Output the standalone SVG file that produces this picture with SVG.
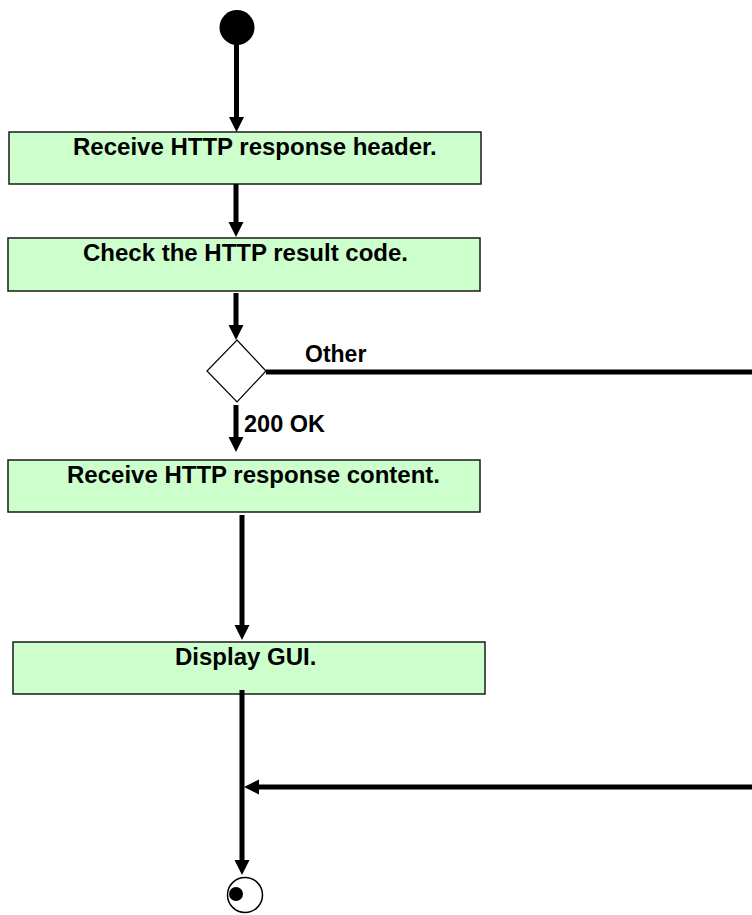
<svg xmlns="http://www.w3.org/2000/svg" width="752" height="915" viewBox="0 0 752 915">
<style>
.box{fill:#ccffcc;stroke:#1a1a1a;stroke-width:1.5}
.lbl{font-family:"Liberation Sans",Arial,sans-serif;font-weight:bold;fill:#000}
.t{font-size:24px}
.c{stroke:#000;stroke-width:5;fill:none}
.ah{fill:#000}
</style>
<rect width="752" height="915" fill="#fff"/>
<g id="start"><circle cx="237" cy="27.5" r="17.5" fill="#000"/></g>
<g id="n1"><rect class="box" x="9" y="132" width="472" height="52"/><text class="lbl t" x="73" y="155">Receive HTTP response header.</text></g>
<g id="n2"><rect class="box" x="8" y="238" width="472" height="53"/><text class="lbl t" x="83" y="261">Check the HTTP result code.</text></g>
<g id="decision"><polygon points="237,340 266,371 237,402 207,371" fill="#fff" stroke="#000" stroke-width="1.2"/></g>
<g id="n3"><rect class="box" x="8" y="460" width="472" height="52"/><text class="lbl t" x="67" y="483">Receive HTTP response content.</text></g>
<g id="n4"><rect class="box" x="13" y="642" width="472" height="52"/><text class="lbl t" x="175" y="665">Display GUI.</text></g>
<g id="end"><circle cx="245" cy="895" r="17.5" fill="#fff" stroke="#000" stroke-width="1.5"/><circle cx="236" cy="894" r="7" fill="#000"/></g>
<g id="connectors">
<line class="c" x1="236.5" y1="44" x2="236.5" y2="120"/>
<polygon class="ah" points="229,117 244,117 236.5,132"/>
<line class="c" x1="236" y1="184" x2="236" y2="225"/>
<polygon class="ah" points="228.5,222 243.5,222 236,237"/>
<line class="c" x1="236" y1="293" x2="236" y2="328"/>
<polygon class="ah" points="228.5,325 243.5,325 236,340"/>
<line class="c" x1="266" y1="372" x2="752" y2="372"/>
<text class="lbl" x="305" y="362" font-size="23">Other</text>
<line class="c" x1="236" y1="405" x2="236" y2="440"/>
<polygon class="ah" points="228.5,437 243.5,437 236,452"/>
<text class="lbl" x="244" y="432" font-size="23.5">200 OK</text>
<line class="c" x1="242" y1="515" x2="242" y2="628"/>
<polygon class="ah" points="234.5,625 249.5,625 242,640"/>
<line class="c" x1="242" y1="690" x2="242" y2="863"/>
<polygon class="ah" points="234.5,860 249.5,860 242,875"/>
<line class="c" x1="752" y1="787" x2="255" y2="787"/>
<polygon class="ah" points="259,779.5 259,794.5 244,787"/>
</g>
</svg>
